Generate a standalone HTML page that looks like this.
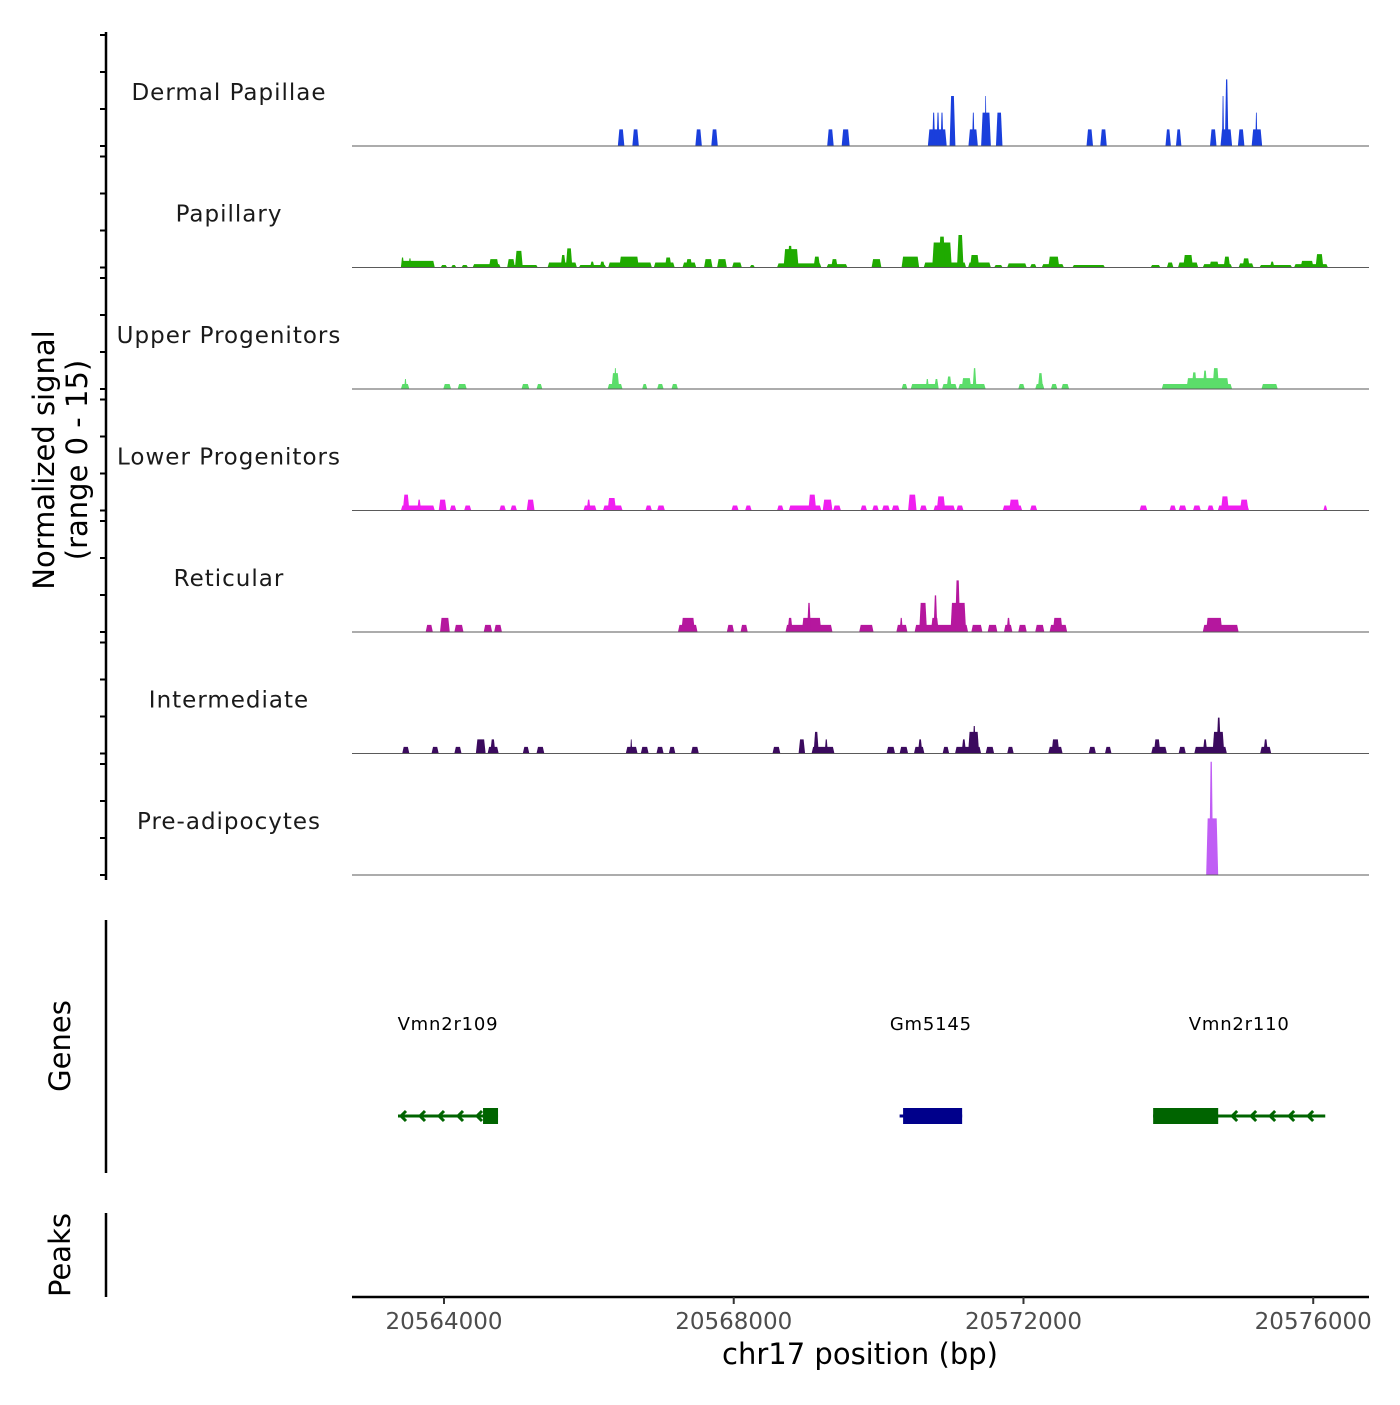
<!DOCTYPE html>
<html><head><meta charset="utf-8"><style>
body{margin:0;background:#fff;}
svg text{font-family:"DejaVu Sans","Liberation Sans",sans-serif;}
</style></head><body>
<svg id="chart" width="1400" height="1400" viewBox="0 0 1400 1400" xmlns="http://www.w3.org/2000/svg">
<rect width="1400" height="1400" fill="#fff"/>
<g id="tracks"></g>
<g id="genes"></g>
<g id="axes"></g>
</svg>
<script>
const trackNames = ["Dermal Papillae","Papillary","Upper Progenitors","Lower Progenitors","Reticular","Intermediate","Pre-adipocytes"];
const trackColors = ["#1a3fdc","#1faa00","#5bdd6a","#f01ff0","#b5179e","#3b0a5e","#c05ef5"];
const xTicks = [20564000,20568000,20572000,20576000];
const xTickLabels = ["20564000","20568000","20572000","20576000"];
const regionStart = 20562730, regionEnd = 20576770;

const dermalPapillae = [[20566400,20566490,2],[20566600,20566690,2],[20567470,20567560,2],[20567690,20567780,2],[20569290,20569380,2],[20569490,20569600,2],[20570680,20570940,2],[20570740,20570780,4],[20570800,20570840,4],[20570855,20570895,4],[20570980,20571060,6],[20571240,20571370,2],[20571290,20571325,4],[20571415,20571550,4],[20571465,20571490,6],[20571620,20571710,4],[20572870,20572960,2],[20573060,20573150,2],[20573960,20574035,2],[20574105,20574180,2],[20574575,20574665,2],[20574720,20574880,2],[20574740,20574770,6],[20574780,20574830,8],[20574960,20575050,2],[20575150,20575295,2],[20575200,20575230,4]];
const papillary = [[20563405,20563873,0.8],[20563405,20563450,1.2],[20563510,20563550,1.1],[20563954,20564044,0.3],[20564098,20564170,0.3],[20564242,20564332,0.3],[20564395,20564782,0.4],[20564620,20564755,1],[20564872,20565295,0.3],[20564872,20564980,1],[20564980,20565088,2],[20565430,20565835,0.6],[20565610,20565682,1.5],[20565682,20565772,2.3],[20565862,20566240,0.3],[20566015,20566078,0.7],[20566150,20566222,0.7],[20566267,20566870,0.6],[20566420,20566690,1.3],[20566897,20567185,0.6],[20567050,20567140,1.2],[20567293,20567482,0.6],[20567338,20567428,1],[20567590,20567707,1],[20567770,20567905,1],[20567977,20568112,0.6],[20568220,20568292,0.3],[20568598,20569210,0.5],[20568688,20568895,2.2],[20568742,20568814,2.6],[20569102,20569192,1.3],[20569282,20569570,0.4],[20569345,20569435,1],[20569903,20570038,1],[20570317,20570560,1.3],[20570623,20571208,0.6],[20570740,20571010,3],[20570830,20570920,3.7],[20571082,20571172,3.9],[20571235,20571550,0.6],[20571262,20571388,1.5],[20571595,20571712,0.3],[20571775,20572045,0.5],[20572090,20572180,0.4],[20572252,20572558,0.4],[20572342,20572495,1.3],[20572675,20573125,0.3],[20573755,20573890,0.3],[20573980,20574070,0.6],[20574133,20574412,0.6],[20574205,20574340,1.5],[20574475,20574880,0.4],[20574565,20574700,0.7],[20574763,20574853,1.3],[20574970,20575177,0.5],[20575024,20575123,1.1],[20575258,20575708,0.3],[20575402,20575465,0.7],[20575735,20576203,0.4],[20575825,20576005,0.8],[20576032,20576140,1.6]];
const upperProgenitors = [[20563405,20563522,0.6],[20563450,20563486,1.2],[20563990,20564098,0.6],[20564188,20564314,0.6],[20565070,20565178,0.6],[20565277,20565358,0.6],[20566258,20566465,0.6],[20566312,20566420,1.9],[20566348,20566384,2.5],[20566735,20566807,0.6],[20566942,20567032,0.6],[20567140,20567230,0.6],[20570317,20570398,0.6],[20570443,20570830,0.6],[20570650,20570695,1.2],[20570767,20570830,1.2],[20570875,20571082,0.6],[20570938,20571010,1.5],[20571100,20571478,0.6],[20571145,20571280,1.3],[20571298,20571352,2.5],[20571928,20572018,0.6],[20572162,20572288,0.6],[20572198,20572270,1.9],[20572378,20572468,0.6],[20572522,20572630,0.6],[20573908,20574880,0.6],[20574250,20574835,1.3],[20574322,20574394,2],[20574475,20574538,2.2],[20574610,20574700,2.5],[20575285,20575510,0.6]];
const lowerProgenitors = [[20563405,20563873,0.6],[20563432,20563522,1.9],[20563630,20563684,1.3],[20563927,20564035,1.3],[20564080,20564170,0.6],[20564278,20564377,0.6],[20564764,20564854,0.6],[20564917,20565007,0.6],[20565142,20565250,1.3],[20565925,20566105,0.6],[20565970,20566024,1.3],[20566195,20566465,0.6],[20566258,20566375,1.5],[20566780,20566870,0.6],[20566942,20567050,0.6],[20567968,20568067,0.6],[20568157,20568247,0.6],[20568598,20568688,0.6],[20568760,20569210,0.6],[20569030,20569138,1.9],[20569228,20569363,1.3],[20569372,20569480,0.6],[20569750,20569840,0.6],[20569912,20570002,0.6],[20570047,20570155,0.6],[20570182,20570290,0.6],[20570407,20570524,1.9],[20570569,20570668,0.6],[20570758,20571055,0.6],[20570803,20570920,1.7],[20571073,20571172,0.6],[20571712,20571982,0.6],[20571802,20571946,1.3],[20572090,20572189,0.6],[20573602,20573710,0.6],[20574016,20574106,0.6],[20574142,20574250,0.6],[20574340,20574448,0.6],[20574538,20574628,0.6],[20574682,20575114,0.6],[20574727,20574835,1.7],[20574988,20575105,1.3],[20576140,20576194,0.6]];
const reticular = [[20563747,20563846,0.85],[20563945,20564080,1.7],[20564143,20564269,0.85],[20564548,20564665,0.85],[20564692,20564800,0.85],[20567230,20567500,0.85],[20567275,20567464,1.7],[20567905,20568004,0.85],[20568094,20568193,0.85],[20568715,20569363,0.85],[20568742,20568814,1.7],[20568940,20569210,1.7],[20569012,20569066,3.5],[20569732,20569930,0.85],[20570245,20570398,0.85],[20570290,20570335,1.7],[20570497,20571235,0.85],[20570560,20570668,3.5],[20570722,20570830,1.7],[20570758,20570812,4.4],[20570992,20571208,3.5],[20571055,20571127,6.2],[20571280,20571433,0.85],[20571505,20571640,0.85],[20571730,20571847,0.85],[20571766,20571820,1.7],[20571928,20572045,0.85],[20572162,20572288,0.85],[20572360,20572603,0.85],[20572405,20572540,1.7],[20574475,20574970,0.85],[20574520,20574745,1.7]];
const intermediate = [[20563423,20563522,0.8],[20563828,20563927,0.8],[20564143,20564242,0.8],[20564440,20564575,1.7],[20564602,20564755,0.8],[20564638,20564710,1.7],[20565088,20565178,0.8],[20565277,20565385,0.8],[20566510,20566672,0.8],[20566570,20566600,1.7],[20566717,20566825,0.8],[20566933,20567032,0.8],[20567104,20567194,0.8],[20567410,20567518,0.8],[20568535,20568643,0.8],[20568895,20568985,1.7],[20569075,20569390,0.8],[20569102,20569174,2.6],[20569255,20569300,1.7],[20570110,20570227,0.8],[20570290,20570407,0.8],[20570488,20570632,0.8],[20570542,20570605,1.7],[20570884,20570974,0.8],[20571055,20571415,0.8],[20571145,20571208,1.7],[20571235,20571388,2.6],[20571298,20571343,3.3],[20571478,20571595,0.8],[20571775,20571865,0.8],[20572342,20572540,0.8],[20572387,20572495,1.7],[20572900,20573000,0.8],[20573125,20573215,0.8],[20573764,20573980,0.8],[20573800,20573890,1.7],[20574142,20574241,0.8],[20574358,20574808,0.8],[20574475,20574538,1.7],[20574610,20574772,2.6],[20574664,20574727,4.3],[20575267,20575420,0.8],[20575312,20575375,1.7]];
const preAdipocytes = [[20574522,20574688,6.8],[20574564,20574619,13.6]];
const trackData = [dermalPapillae,papillary,upperProgenitors,lowerProgenitors,reticular,intermediate,preAdipocytes];

const geneNames = ["Vmn2r109","Gm5145","Vmn2r110"];
const geneStarts = [20563365,20570290,20573790];
const geneEnds = [20564746,20571153,20576166];
const exonStarts = [20564539,20570338,20573790];
const exonEnds = [20564746,20571153,20574688];
const geneStrands = [-1,1,-1];
const geneColors = ["#006400","#00008b","#006400"];

const NS="http://www.w3.org/2000/svg";
const X0=352, X1=1369, PXU=8.33;
function xScale(bp){return X0+(bp-regionStart)/(regionEnd-regionStart)*(X1-X0);}
function baseY(i){return 146+i*121.5;}
function yScale(i,v){return baseY(i)-v*PXU;}
function mk(tag,attrs,parent){const e=document.createElementNS(NS,tag);for(const k in attrs)e.setAttribute(k,attrs[k]);parent.appendChild(e);return e;}

const tracks=document.getElementById('tracks');
trackData.forEach((data,i)=>{
  const g=mk('g',{},tracks);
  
  
  const b=baseY(i);
  data.forEach(s=>{
    const xa=xScale(s[0]), xb=xScale(s[1]), yt=yScale(i,s[2]);
    const sl=Math.min(1.5,(xb-xa)/3);
    const p=mk('polygon',{points:`${xa},${b} ${xa+sl},${yt} ${xb-sl},${yt} ${xb},${b}`,fill:trackColors[i]},g);
    
    
  });
  const ln=mk('line',{x1:X0,x2:X1,y1:b,y2:b,stroke:'#5a5a5a','stroke-width':1},g);
  
  
  const t=mk('text',{x:229,y:b-46,'text-anchor':'middle','font-size':23,'letter-spacing':'1','fill':'#1a1a1a'},g);
  
  
  t.textContent=trackNames[i];
});

const genes=document.getElementById('genes');
geneNames.forEach((n,i)=>{
  const g=mk('g',{},genes);
  
  
  const c=geneColors[i], y=1116;
  const xs=xScale(geneStarts[i]), xe=xScale(geneEnds[i]);
  const ex=xScale(exonStarts[i]), ee=xScale(exonEnds[i]);
  mk('line',{x1:xs,x2:xe,y1:y,y2:y,stroke:c,'stroke-width':3},g);
  for(let ax=xs+3;ax<=xe;ax+=19){
    if(ax>ex-6&&ax<ee+4)continue;
    const d=geneStrands[i]<0?`M${ax+5},${y-5} L${ax},${y} L${ax+5},${y+5}`:`M${ax-5},${y-5} L${ax},${y} L${ax-5},${y+5}`;
    mk('path',{d:d,stroke:c,'stroke-width':3,fill:'none'},g);
  }
  const r=mk('rect',{x:ex,y:y-8,width:ee-ex,height:16,fill:c},g);
  
  
  const t=mk('text',{x:(xs+xe)/2,y:1030,'text-anchor':'middle','font-size':18,'letter-spacing':'0.8',fill:'#000'},g);
  
  
  t.textContent=n;
});

const axes=document.getElementById('axes');
mk('line',{x1:106,x2:106,y1:32,y2:880,stroke:'#000','stroke-width':2.5},axes);
for(let i=0;i<7;i++){
  const b=baseY(i);
  [0,37,74,111].forEach(d=>mk('line',{x1:100,x2:106,y1:b-d,y2:b-d,stroke:'#000','stroke-width':2},axes));
}
mk('line',{x1:106,x2:106,y1:920,y2:1173,stroke:'#000','stroke-width':2.5},axes);
mk('line',{x1:106,x2:106,y1:1213,y2:1297,stroke:'#000','stroke-width':2.5},axes);
mk('line',{x1:X0,x2:X1,y1:1297,y2:1297,stroke:'#000','stroke-width':2.5},axes);
xTicks.forEach((v,k)=>{
  const x=xScale(v);
  mk('line',{x1:x,x2:x,y1:1297,y2:1304,stroke:'#333','stroke-width':2},axes);
  const t=mk('text',{x:x,y:1329,'text-anchor':'middle','font-size':23,fill:'#4d4d4d'},axes);
  
  
  t.textContent=xTickLabels[k];
});
function txt(s,x,y,size,rot,name){
  const t=mk('text',{x:x,y:y,'text-anchor':'middle','font-size':size,fill:'#000',transform:rot?`rotate(-90 ${x} ${y})`:''},axes);
  
  
  return t;
}
txt('',860,1364,29,false,'x-axis-title').textContent='chr17 position (bp)';
const yt=mk('text',{'text-anchor':'middle','font-size':29,fill:'#000',transform:'rotate(-90 63 460)'},axes);


yt.innerHTML='<tspan x="63" y="451">Normalized signal</tspan><tspan x="63" y="484">(range 0 - 15)</tspan>';
txt('',70,1046,29,true,'genes-axis-title').textContent='Genes';
txt('',70,1255,29,true,'peaks-axis-title').textContent='Peaks';
</script>
</body></html>
